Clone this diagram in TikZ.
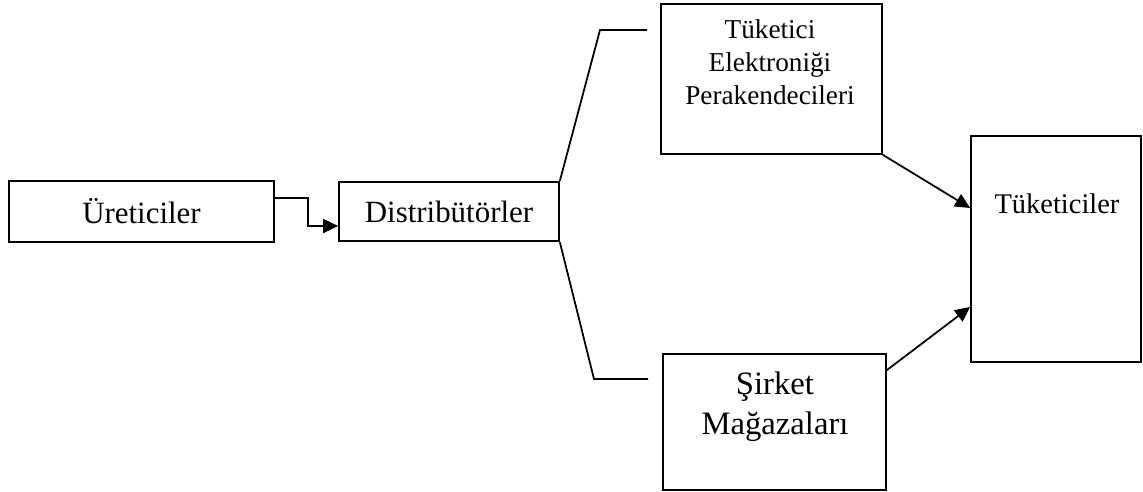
\documentclass[tikz,border=0pt]{standalone}
\usepackage{fontspec}
\setmainfont{Liberation Serif}
\usetikzlibrary{arrows.meta}

\begin{document}
\begin{tikzpicture}[x=0.02cm,y=-0.02cm,line width=1pt,>={Triangle[length=0.3cm,width=0.28cm]},
  box/.style={draw,inner sep=0pt},
  txt/.style={align=center,inner sep=0pt,anchor=north}]
  \useasboundingbox (0,0) rectangle (1143,492);
  \node[box,minimum width=5.30cm,minimum height=1.22cm,font=\fontsize{17.6}{21}\selectfont] (ure) at (141.5,211.5) {Üreticiler};
  \node[box,minimum width=4.40cm,minimum height=1.19cm,font=\fontsize{17.6}{21}\selectfont] (dist) at (449,211.5) {Distribütörler};
  \node[box,minimum width=4.42cm,minimum height=3.00cm] (tep) at (771.5,79) {};
  \node[txt,font=\fontsize{15.5}{18.8}\selectfont] (tep-t) at (770,19) {Tüketici\\Elektroniği\\Perakendecileri};
  \node[box,minimum width=4.46cm,minimum height=2.72cm] (sirket) at (774.5,422) {};
  \node[txt,font=\fontsize{18.6}{22.8}\selectfont] (sirket-t) at (775,371) {Şirket\\Mağazaları};
  \node[box,minimum width=3.40cm,minimum height=4.52cm] (tuk) at (1056,249) {};
  \node[txt,font=\fontsize{16.2}{19.5}\selectfont] (tuk-t) at (1057,193) {Tüketiciler};
  % ureticiler to distributorler
  \draw[->] ([yshift=0.27cm]ure.east) -- ++(33,0) |- ([yshift=-0.29cm]dist.west);
  % distributorler branches
  \coordinate (up1) at (600,30);
  \coordinate (up2) at (647,30);
  \coordinate (dn1) at (594,379);
  \coordinate (dn2) at (648,379);
  \draw (dist.north east) -- (up1) -- (up2);
  \draw (dist.south east) -- (dn1) -- (dn2);
  % to tuketiciler
  \draw[->] (tep.south east) -- ([yshift=0.82cm]tuk.west);
  \draw[->] ([yshift=-0.34cm]sirket.north east) -- ([yshift=-1.16cm]tuk.west);
\end{tikzpicture}
\end{document}
